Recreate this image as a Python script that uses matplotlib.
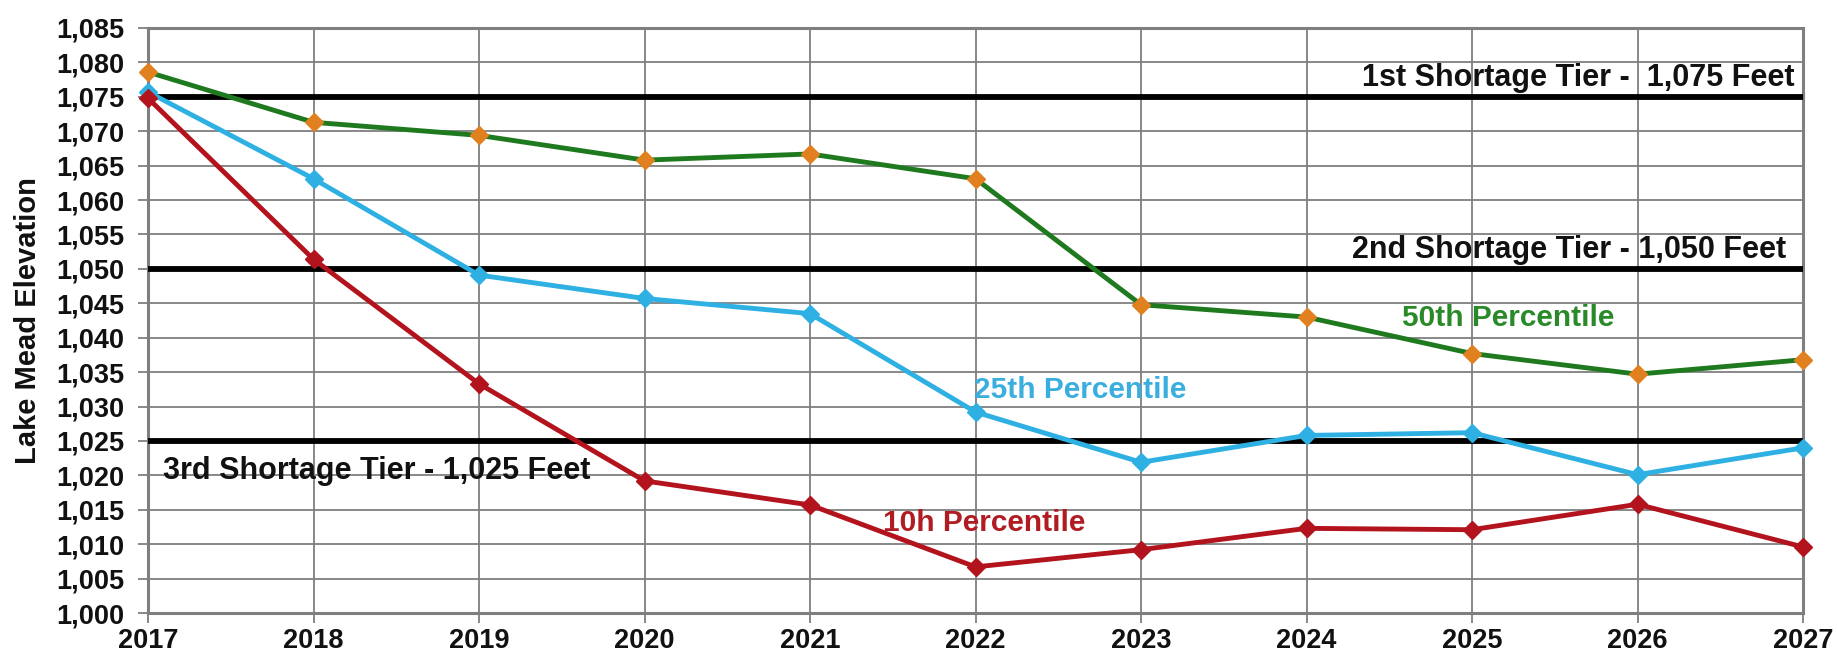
import numpy as np
import matplotlib
matplotlib.use("Agg")
import matplotlib.pyplot as plt
from matplotlib.ticker import FuncFormatter, MultipleLocator

plt.rcParams["font.family"] = ["Liberation Sans", "DejaVu Sans"]

years = list(range(2017, 2028))
p50 = [1078.6, 1071.3, 1069.4, 1065.8, 1066.7, 1063.1, 1044.8, 1043.0, 1037.7, 1034.7, 1036.8]
p25 = [1075.7, 1063.1, 1049.1, 1045.7, 1043.5, 1029.2, 1021.9, 1025.8, 1026.2, 1020.1, 1024.0]
p10 = [1074.8, 1051.4, 1033.3, 1019.2, 1015.7, 1006.7, 1009.2, 1012.3, 1012.1, 1015.8, 1009.6]
tiers = [1075, 1050, 1025]

GREEN = "#1f7a1f"
BLUE = "#2fb0e3"
RED = "#b3131d"
ORANGE = "#e0801f"

fig = plt.figure(figsize=(18.37, 6.56), dpi=100)
ax = fig.add_axes([148/1837, 1 - 613/656, (1803-148)/1837, (613-28)/656])

ax.set_xlim(2017, 2027)
ax.set_ylim(1000, 1085)
ax.xaxis.set_major_locator(MultipleLocator(1))
ax.yaxis.set_major_locator(MultipleLocator(5))
ax.yaxis.set_major_formatter(FuncFormatter(lambda v, _: f"{v:,.0f}"))
ax.grid(True, color="#7f7f7f", lw=1.3)
ax.set_axisbelow(True)
for s in ax.spines.values():
    s.set_color("#7f7f7f")
    s.set_linewidth(2.2)
ax.tick_params(axis="both", colors="#7f7f7f", length=7, width=1.3, labelcolor="#111111")
ax.tick_params(axis="x", labelsize=19.5, pad=4)
ax.tick_params(axis="y", labelsize=19.5, pad=10)
for lab in ax.get_xticklabels() + ax.get_yticklabels():
    lab.set_fontweight("bold")

for t in tiers:
    ax.axhline(t, color="black", lw=4.2, zorder=3)

ax.plot(years, p50, color=GREEN, lw=3.5, marker="D", ms=9, mfc=ORANGE, mec=ORANGE,
        zorder=4, clip_on=False)
ax.plot(years, p25, color=BLUE, lw=3.5, marker="D", ms=9, mfc=BLUE, mec=BLUE,
        zorder=4, clip_on=False)
ax.plot(years, p10, color=RED, lw=3.5, marker="D", ms=9, mfc=RED, mec=RED,
        zorder=4, clip_on=False)

ax.set_ylabel("Lake Mead Elevation", fontsize=21, fontweight="bold", color="#111111")
ax.yaxis.set_label_coords(-0.064, 0.5)

tkw = dict(fontsize=22, fontweight="bold", color="#111111", va="center", zorder=5)
ax.text(2026.95, 1077.8, "1st Shortage Tier -  1,075 Feet", ha="right", **tkw)
ax.text(2026.9, 1052.7, "2nd Shortage Tier - 1,050 Feet", ha="right", **tkw)
ax.text(2017.09, 1020.7, "3rd Shortage Tier - 1,025 Feet", ha="left", **tkw)

lkw = dict(fontsize=21.5, fontweight="bold", ha="center", va="center", zorder=5)
ax.text(2025.22, 1042.9, "50th Percentile", color="#2a8a2a", **lkw)
ax.text(2022.63, 1032.4, "25th Percentile", color="#3aaedf", **lkw)
ax.text(2022.05, 1013.1, "10h Percentile", color="#b01c22", **lkw)

fig.savefig("out.png", dpi=100)
